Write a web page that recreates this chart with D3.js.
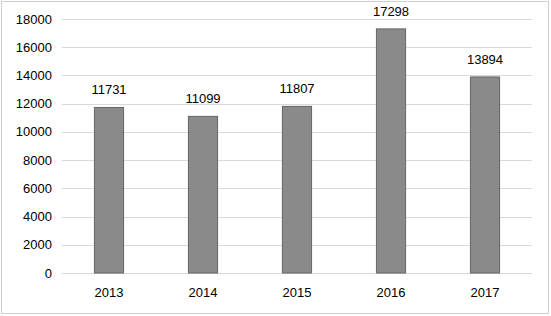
<html>
<head>
    <meta charset="utf-8" />
    <script src="https://cdn.jsdelivr.net/npm/d3@7"></script>
    <style>
        body { margin: 0; background: #fff; }
        text { font-family: "Liberation Sans", Arial, sans-serif; font-size: 13px; fill: #000; }
    </style>
</head>
<body>
    <svg id="chart" width="551" height="316"></svg>
    <script>
        var years = ["2013", "2014", "2015", "2016", "2017"];
        var counts = [11731, 11099, 11807, 17298, 13894];
        var yTicks = [0, 2000, 4000, 6000, 8000, 10000, 12000, 14000, 16000, 18000];

        var svg = d3.select("#chart");
        // plot box ("top" is taken by window.top, so use plotTop)
        var plotLeft = 62, plotRight = 532, plotTop = 19, plotBottom = 273;

        // frame
        svg.append("rect")
            .attr("x", 1.5).attr("y", 1.5)
            .attr("width", 547).attr("height", 312)
            .attr("fill", "none").attr("stroke", "#d0d0d0");

        var x = d3.scaleBand().domain(years).range([plotLeft, plotRight]).paddingInner(0.69).paddingOuter(0.345);
        var y = d3.scaleLinear().domain([0, 18000]).range([plotBottom, plotTop]);

        // gridlines
        svg.append("g").selectAll("line")
            .data(yTicks)
            .enter().append("line")
            .attr("x1", plotLeft).attr("x2", plotRight)
            .attr("y1", function(d) { return Math.round(y(d)) + 0.5; })
            .attr("y2", function(d) { return Math.round(y(d)) + 0.5; })
            .attr("stroke", "#d9d9d9");

        // y labels
        svg.append("g").selectAll("text")
            .data(yTicks)
            .enter().append("text")
            .attr("x", 52)
            .attr("y", function(d) { return y(d); })
            .attr("dy", "0.35em")
            .attr("text-anchor", "end")
            .text(function(d) { return d; });

        // bars
        svg.append("g").selectAll("rect")
            .data(counts)
            .enter().append("rect")
            .attr("x", function(d, i) { return x(years[i]); })
            .attr("y", function(d) { return y(d); })
            .attr("width", x.bandwidth())
            .attr("height", function(d) { return plotBottom - y(d); })
            .attr("fill", "#8a8a8a")
            .attr("stroke", "#646464")
            .attr("stroke-width", 1);

        // value labels
        svg.append("g").selectAll("text")
            .data(counts)
            .enter().append("text")
            .attr("x", function(d, i) { return x(years[i]) + x.bandwidth() / 2; })
            .attr("y", function(d) { return y(d) - 13; })
            .attr("text-anchor", "middle")
            .text(function(d) { return d; });

        // x labels
        svg.append("g").selectAll("text")
            .data(years)
            .enter().append("text")
            .attr("x", function(d) { return x(d) + x.bandwidth() / 2; })
            .attr("y", 297)
            .attr("text-anchor", "middle")
            .text(function(d) { return d; });
    </script>
</body>
</html>
